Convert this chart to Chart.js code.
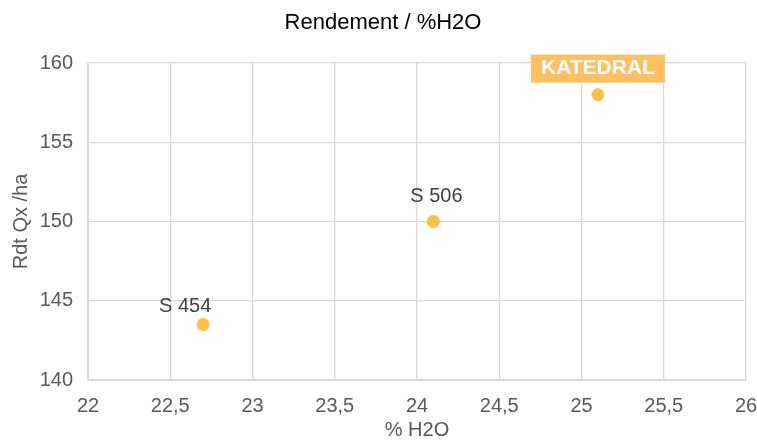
<!DOCTYPE html>
<html><head><meta charset="utf-8">
<script src="https://cdn.jsdelivr.net/npm/chart.js@4/dist/chart.umd.min.js"></script>
<style>html,body{margin:0;padding:0;background:#fff}#w{width:757px;height:440px}</style>
</head><body><div id="w"><canvas id="c"></canvas></div>
<script>
const varieties = ["S 454", "S 506", "KATEDRAL"];
const h2o = [22.7, 24.1, 25.1];
const yieldQx = [143.5, 150, 158];
const highlight = [false, false, true];

const FONT = "'Liberation Sans', Arial, sans-serif";
const labelPlugin = {
  id: 'labels',
  afterDraw(chart) {
    const ctx = chart.ctx;
    const xs = chart.scales.x, ys = chart.scales.y;
    ctx.save();
    ctx.fillStyle = '#000';
    ctx.font = '22px ' + FONT;
    ctx.textAlign = 'center'; ctx.textBaseline = 'middle';
    ctx.fillText('Rendement / %H2O', 383, 23);
    varieties.forEach((name, i) => {
      const px = xs.getPixelForValue(h2o[i]);
      const py = ys.getPixelForValue(yieldQx[i]);
      if (highlight[i]) {
        ctx.font = 'bold 21px ' + FONT;
        const w = ctx.measureText(name).width + 20;
        ctx.fillStyle = '#FFC062';
        ctx.fillRect(px - w / 2, py - 40, w, 28);
        ctx.fillStyle = '#fff';
        ctx.fillText(name, px, py - 26);
      } else {
        ctx.font = '20px ' + FONT;
        ctx.fillStyle = '#404040';
        const dx = i === 0 ? -18 : 3;
        const dy = i === 0 ? -18 : -25;
        ctx.fillText(name, px + dx, py + dy);
      }
    });
    ctx.restore();
  }
};

new Chart(document.getElementById('c'), {
  type: 'scatter',
  data: {
    datasets: [{
      data: h2o.map((x, i) => ({ x, y: yieldQx[i] })),
      backgroundColor: '#FFC03F',
      borderColor: '#FFC03F',
      pointRadius: 6,
      pointHoverRadius: 6
    }]
  },
  options: {
    responsive: true, maintainAspectRatio: false, animation: false,
    layout: { padding: { top: 63, right: 0, left: 0, bottom: 0 } },
    plugins: { legend: { display: false }, tooltip: { enabled: false }, title: { display: false } },
    scales: {
      x: {
        type: 'linear', min: 22, max: 26,
        ticks: { stepSize: 0.5, color: '#595959', font: { size: 20, family: FONT }, padding: 14,
          callback: v => String(v).replace('.', ',') },
        grid: { color: '#D9D9D9', drawTicks: false, lineWidth: 1.3 },
        border: { color: '#D9D9D9' },
        title: { display: true, text: '% H2O', color: '#595959', font: { size: 20, family: FONT, lineHeight: 1.0 }, padding: { top: 0, bottom: 0 } },
        afterFit(s) { s.height = 60; s.paddingRight = 11; }
      },
      y: {
        min: 140, max: 160,
        ticks: { stepSize: 5, color: '#595959', font: { size: 20, family: FONT }, padding: 15 },
        grid: { color: '#D9D9D9', drawTicks: false, lineWidth: 1.3 },
        border: { color: '#D9D9D9' },
        title: { display: true, text: 'Rdt Qx /ha', color: '#595959', font: { size: 20, family: FONT }, padding: { top: 9, bottom: 0 } },
        afterFit(s) { s.width = 88; }
      }
    }
  },
  plugins: [labelPlugin]
});
</script></body></html>
